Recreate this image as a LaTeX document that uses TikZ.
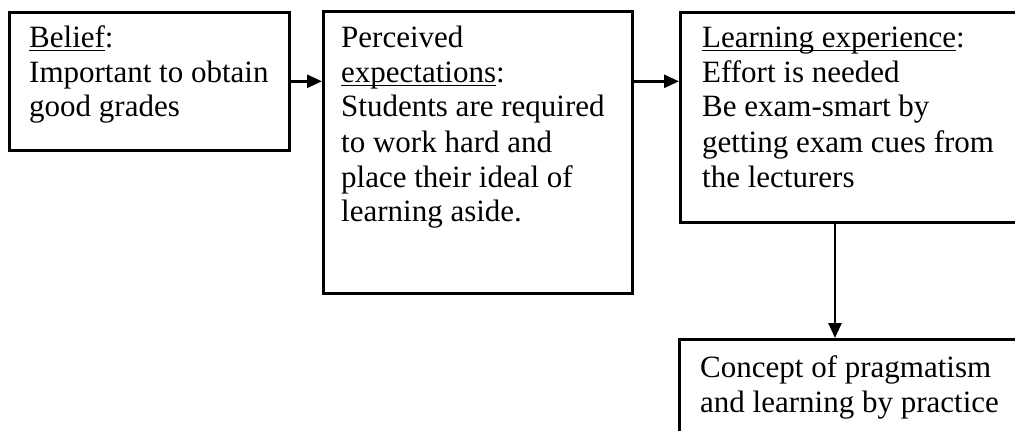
\documentclass[tikz,border=0pt]{standalone}
\usepackage{fontspec}
\setmainfont{Liberation Serif}
\usetikzlibrary{arrows.meta}
\newcommand\myul[1]{\leavevmode\setbox0\hbox{#1}\rlap{\rule[-4pt]{\wd0}{1.4pt}}\box0}
\begin{document}
\begin{tikzpicture}[x=1pt,y=1pt,
  boxnode/.style={draw=black,line width=2.6pt,rectangle,inner sep=0pt,anchor=north west},
  txtnode/.style={anchor=base west,inner sep=0pt,
    font=\fontsize{31pt}{35pt}\selectfont},
  conn/.style={line width=2.6pt,-{Triangle[length=15pt,width=13pt]}}]
\useasboundingbox (0,0) rectangle (1015,-431);
\clip (0,0) rectangle (1015,-431);
\node[boxnode,minimum width=280pt,minimum height=138pt] (b1) at (8,-11) {};
\node[boxnode,minimum width=309pt,minimum height=282pt] (b2) at (322,-10) {};
\node[boxnode,minimum width=355pt,minimum height=210pt] (b3) at (679,-11) {};
\node[boxnode,minimum width=355pt,minimum height=110pt] (b4) at (678,-338) {};
\node[txtnode] (t1) at (29,-47) {\parbox[t]{258pt}{\raggedright\myul{Belief}:\\Important to obtain\\good grades}};
\node[txtnode] (t2) at (341,-47) {\parbox[t]{288pt}{\raggedright Perceived\\\myul{expectations}:\\Students are required\\to work hard and\\place their ideal of\\learning aside.}};
\node[txtnode] (t3) at (702,-47) {\parbox[t]{310pt}{\raggedright\myul{Learning experience}:\\Effort is needed\\Be exam-smart by\\getting exam cues from\\the lecturers}};
\node[txtnode] (t4) at (700,-377) {\parbox[t]{310pt}{\raggedright Concept of pragmatism\\and learning by practice}};
\draw[conn] (b1.east) -- (b1.east -| b2.west);
\draw[conn] (b2.east |- b1.east) -- (b3.west |- b1.east);
\draw[conn] ([xshift=156pt]b3.south west) -- ([xshift=157pt]b4.north west);
\end{tikzpicture}
\end{document}
